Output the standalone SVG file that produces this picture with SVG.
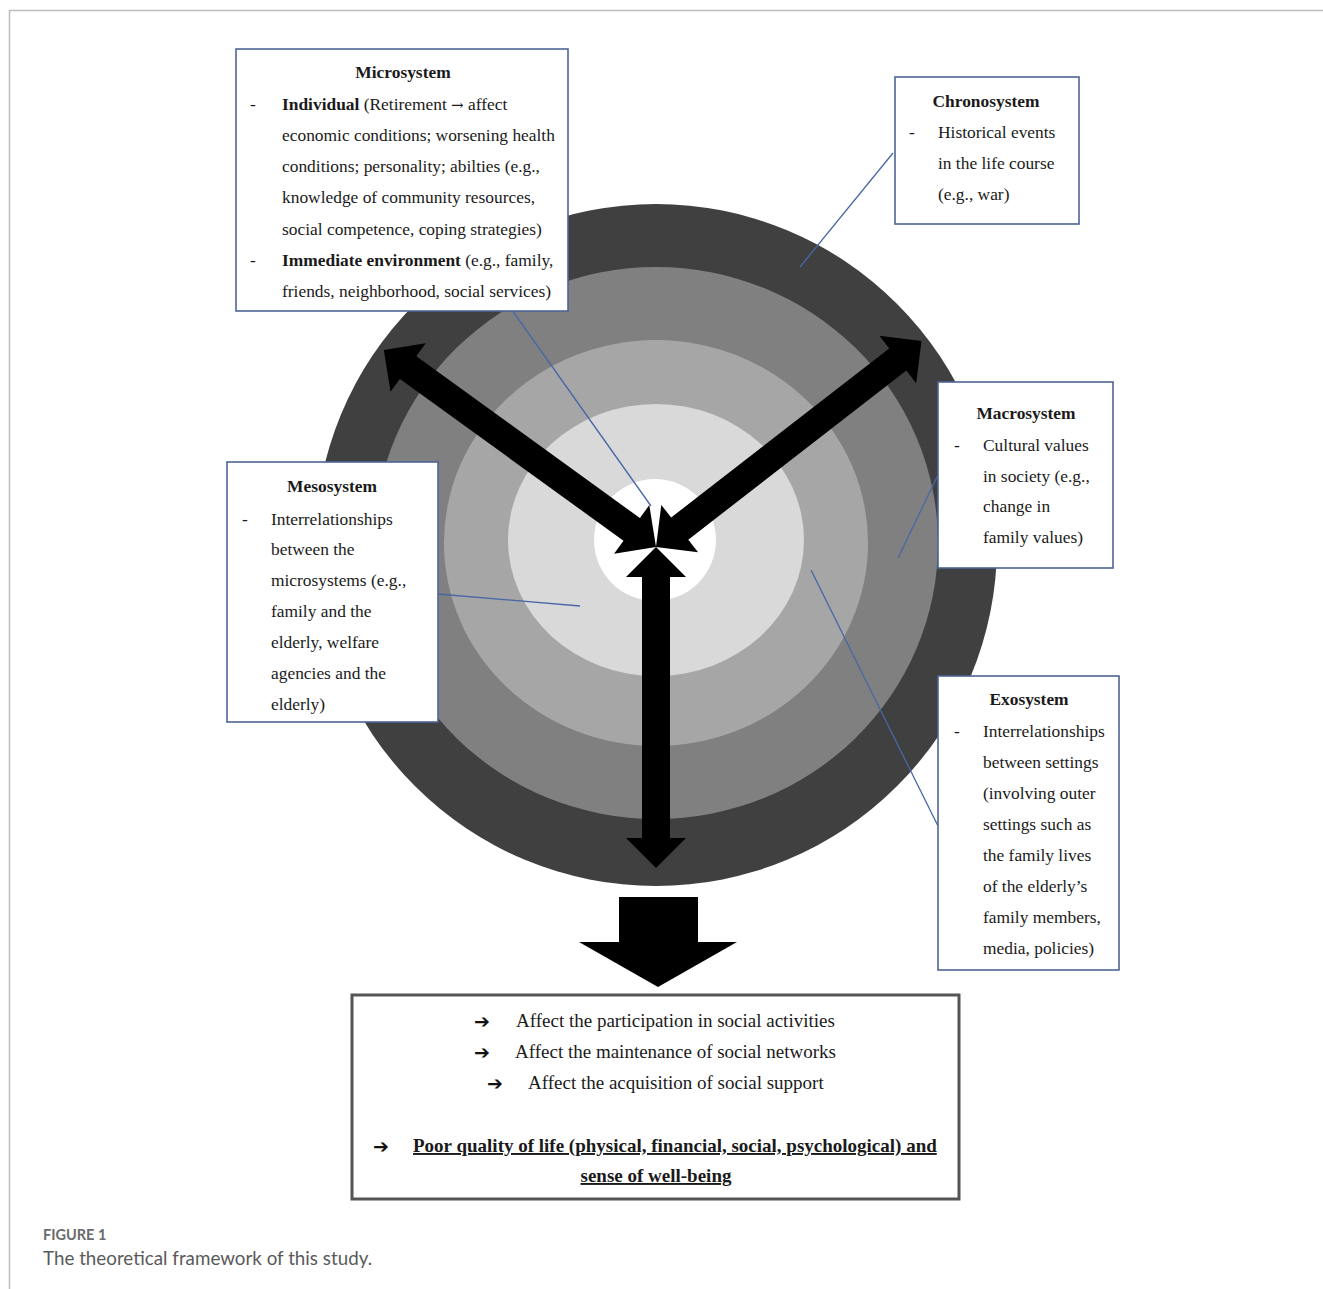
<svg xmlns="http://www.w3.org/2000/svg" width="1323" height="1289" viewBox="0 0 1323 1289">
<style>
.box{fill:#fff;stroke:#4f6596;stroke-width:1.6}
.t{font-family:"Liberation Serif","Times New Roman",serif;font-size:17.4px;fill:#1a1a1a}
.b{font-weight:bold}
.c{text-anchor:middle}
.bt{font-family:"Liberation Serif","Times New Roman",serif;font-size:19px;fill:#1a1a1a}
.ar{font-family:"DejaVu Sans",sans-serif;font-size:19px;font-weight:bold;fill:#111}
.lead{stroke:#4a66a6;stroke-width:1.3;fill:none}
</style>
<defs>
<path id="dbl336" d="M0,0 L30,-30 L30,-14 L306,-14 L306,-30 L336,0 L306,30 L306,14 L30,14 L30,30 Z" fill="#000"/>
<path id="dbl321" d="M0,0 L30,-30 L30,-14 L291,-14 L291,-30 L321,0 L291,30 L291,14 L30,14 L30,30 Z" fill="#000"/>
</defs>
<rect width="1323" height="1289" fill="#fff"/>
<g id="frame" stroke="#bdbdbd" stroke-width="1.5" fill="none">
<line x1="9" y1="10.5" x2="1323" y2="10.5"/>
<line x1="9.5" y1="10" x2="9.5" y2="1289"/>
</g>
<g id="rings">
<circle cx="656" cy="545" r="341" fill="#404040"/>
<ellipse cx="656" cy="543" rx="282" ry="276" fill="#808080"/>
<ellipse cx="656" cy="543" rx="212" ry="203" fill="#a6a6a6"/>
<ellipse cx="656" cy="540" rx="148" ry="136" fill="#d9d9d9"/>
<circle cx="655" cy="540" r="61" fill="#fff"/>
</g>
<g id="connectors">
<line class="lead" x1="893" y1="153" x2="800" y2="267"/>
<line class="lead" x1="512" y1="310" x2="651" y2="506"/>
<line class="lead" x1="938" y1="475" x2="898" y2="558"/>
<line class="lead" x1="438" y1="594" x2="580" y2="606"/>
<line class="lead" x1="938" y1="826" x2="811" y2="570"/>
</g>
<g id="arrows">
<use href="#dbl336" transform="translate(656,547) rotate(215.9)"/>
<use href="#dbl336" transform="translate(656,547) rotate(-37.8)"/>
<use href="#dbl321" transform="translate(656,547) rotate(90)"/>
<polygon points="619,897 698,897 698,942 737,942 658,987 579,942 619,942" fill="#000"/>
</g>
<g id="microsystem">
<rect class="box" x="236" y="49" width="332" height="262"/>
<text class="t b c" x="403" y="78">Microsystem</text>
<text class="t" x="250" y="110">-</text>
<text class="t" x="282" y="110"><tspan class="b">Individual</tspan> (Retirement <tspan font-family="DejaVu Serif,serif" font-size="15">→</tspan> affect</text>
<text class="t" x="282" y="141">economic conditions; worsening health</text>
<text class="t" x="282" y="172">conditions; personality; abilties (e.g.,</text>
<text class="t" x="282" y="203">knowledge of community resources,</text>
<text class="t" x="282" y="235">social competence, coping strategies)</text>
<text class="t" x="250" y="266">-</text>
<text class="t" x="282" y="266"><tspan class="b">Immediate environment</tspan> (e.g., family,</text>
<text class="t" x="282" y="297">friends, neighborhood, social services)</text>
</g>
<g id="chronosystem">
<rect class="box" x="895" y="77" width="184" height="147"/>
<text class="t b c" x="986" y="107">Chronosystem</text>
<text class="t" x="909" y="138">-</text>
<text class="t" x="938" y="138">Historical events</text>
<text class="t" x="938" y="169">in the life course</text>
<text class="t" x="938" y="200">(e.g., war)</text>
</g>
<g id="macrosystem">
<rect class="box" x="938" y="382" width="175" height="186"/>
<text class="t b c" x="1026" y="419">Macrosystem</text>
<text class="t" x="954" y="451">-</text>
<text class="t" x="983" y="451">Cultural values</text>
<text class="t" x="983" y="482">in society (e.g.,</text>
<text class="t" x="983" y="512">change in</text>
<text class="t" x="983" y="543">family values)</text>
</g>
<g id="mesosystem">
<rect class="box" x="227" y="462" width="211" height="260"/>
<text class="t b c" x="332" y="492">Mesosystem</text>
<text class="t" x="242" y="525">-</text>
<text class="t" x="271" y="525">Interrelationships</text>
<text class="t" x="271" y="555">between the</text>
<text class="t" x="271" y="586">microsystems (e.g.,</text>
<text class="t" x="271" y="617">family and the</text>
<text class="t" x="271" y="648">elderly, welfare</text>
<text class="t" x="271" y="679">agencies and the</text>
<text class="t" x="271" y="710">elderly)</text>
</g>
<g id="exosystem">
<rect class="box" x="938" y="676" width="181" height="294"/>
<text class="t b c" x="1029" y="705">Exosystem</text>
<text class="t" x="954" y="737">-</text>
<text class="t" x="983" y="737">Interrelationships</text>
<text class="t" x="983" y="768">between settings</text>
<text class="t" x="983" y="799">(involving outer</text>
<text class="t" x="983" y="830">settings such as</text>
<text class="t" x="983" y="861">the family lives</text>
<text class="t" x="983" y="892">of the elderly’s</text>
<text class="t" x="983" y="923">family members,</text>
<text class="t" x="983" y="954">media, policies)</text>
</g>
<g id="outcomes">
<rect x="352" y="995" width="607" height="204" fill="#fff" stroke="#555" stroke-width="3"/>
<text class="ar" x="474" y="1028">➔</text>
<text class="bt" x="516" y="1027">Affect the participation in social activities</text>
<text class="ar" x="474" y="1059">➔</text>
<text class="bt" x="515" y="1058">Affect the maintenance of social networks</text>
<text class="ar" x="487" y="1090">➔</text>
<text class="bt" x="528" y="1089">Affect the acquisition of social support</text>
<text class="ar" x="373" y="1153">➔</text>
<text class="bt b" x="413" y="1152" text-decoration="underline">Poor quality of life (physical, financial, social, psychological) and</text>
<text class="bt b c" x="656" y="1182" text-decoration="underline">sense of well-being</text>
</g>
<g id="caption">
<text x="43" y="1240" font-family="Lato,'Open Sans',sans-serif" font-size="14.5" font-weight="bold" fill="#6b6b6b">FIGURE 1</text>
<text x="43" y="1265" font-family="Lato,'Open Sans',sans-serif" font-size="18.8" fill="#5a5a5a">The theoretical framework of this study.</text>
</g>
</svg>
